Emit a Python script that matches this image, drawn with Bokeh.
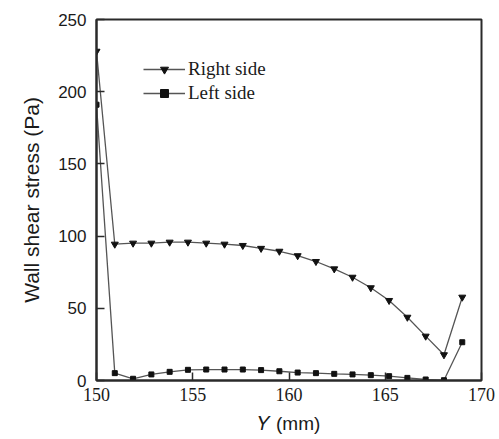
from bokeh.plotting import figure
from bokeh.models import Range1d, Legend, LegendItem, FixedTicker
from bokeh.embed import file_html
from bokeh.resources import INLINE

# Data
y_pos = [150.0, 150.95, 151.9, 152.85, 153.8, 154.75, 155.7, 156.65, 157.6, 158.55,
         159.5, 160.45, 161.4, 162.35, 163.3, 164.25, 165.2, 166.15, 167.1, 168.05, 169.0]
right_side = [228, 94.4, 95.1, 95.1, 95.8, 95.8, 95.1, 94.4, 93.5, 91.5,
              89.5, 86.4, 82.4, 77.3, 71.5, 64.2, 55.4, 43.8, 30.7, 17.8, 57.7]
left_side = [191, 5.1, 1.2, 4.2, 6.0, 7.4, 7.6, 7.6, 7.6, 7.2,
             6.4, 5.5, 5.1, 4.6, 4.2, 3.7, 3.0, 1.8, 0.7, 0.2, 26.5]
x_ticks = [150, 155, 160, 165, 170]
y_ticks = [0, 50, 100, 150, 200, 250]

p = figure(width=499, height=439, output_backend="svg", toolbar_location=None,
           x_range=Range1d(150, 170), y_range=Range1d(0, 250),
           min_border_left=96, min_border_right=18, min_border_top=19, min_border_bottom=59)
p.background_fill_color = "white"
p.border_fill_color = "white"
p.outline_line_color = "#2a2a2a"
p.outline_line_width = 2
p.grid.visible = False

line_col = "#555555"
mark_col = "#111111"

r1 = p.line(y_pos, right_side, line_color=line_col, line_width=1.3)
m1 = p.scatter(y_pos, right_side, marker="inverted_triangle", size=7,
               fill_color=mark_col, line_color=mark_col)
r2 = p.line(y_pos, left_side, line_color=line_col, line_width=1.3)
m2 = p.scatter(y_pos, left_side, marker="square", size=5,
               fill_color=mark_col, line_color=mark_col)

# axes
p.xaxis.ticker = FixedTicker(ticks=x_ticks)
p.yaxis.ticker = FixedTicker(ticks=y_ticks)
for ax in (p.xaxis[0], p.yaxis[0]):
    ax.axis_line_color = "#2a2a2a"
    ax.axis_line_width = 2
    ax.major_tick_in = 8
    ax.major_tick_out = 0
    ax.major_tick_line_color = "#2a2a2a"
    ax.major_tick_line_width = 1.5
    ax.minor_tick_line_color = None
    ax.major_label_text_color = "#1a1a1a"
    ax.axis_label_text_color = "#1a1a1a"
    ax.axis_label_text_font_style = "normal"

p.xaxis.major_label_text_font = "Liberation Serif"
p.xaxis.major_label_text_font_size = "18px"
p.xaxis.major_label_standoff = 7
p.xaxis.axis_label = "𝑌 (mm)"
p.xaxis.axis_label_text_font = "Liberation Sans"
p.xaxis.axis_label_text_font_size = "19px"
p.xaxis.axis_label_standoff = 9

p.yaxis.major_label_text_font = "Liberation Sans"
p.yaxis.major_label_text_font_size = "17px"
p.yaxis.major_label_standoff = 10
p.yaxis.axis_label = "Wall shear stress (Pa)"
p.yaxis.axis_label_text_font = "Liberation Sans"
p.yaxis.axis_label_text_font_size = "21px"
p.yaxis.axis_label_standoff = 12

legend = Legend(items=[LegendItem(label="Right side", renderers=[r1, m1]),
                       LegendItem(label="Left side", renderers=[r2, m2])],
                location=(47, 276))
legend.border_line_color = None
legend.background_fill_alpha = 0
legend.label_text_font = "Liberation Serif"
legend.label_text_font_size = "19px"
legend.label_text_color = "#1a1a1a"
legend.glyph_width = 42
legend.glyph_height = 20
legend.label_standoff = 3
legend.spacing = 2
legend.padding = 0
legend.margin = 0
p.add_layout(legend, "center")

open("out.html", "w").write(file_html(p, INLINE))
